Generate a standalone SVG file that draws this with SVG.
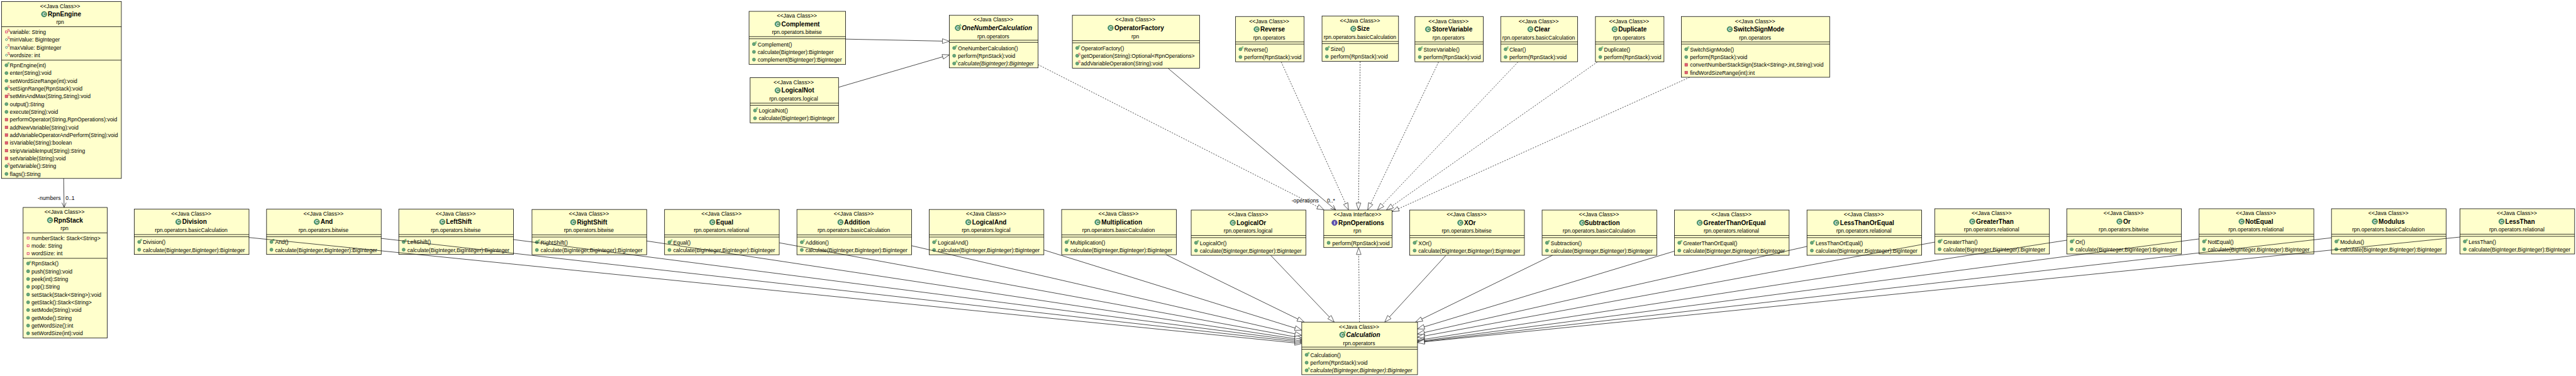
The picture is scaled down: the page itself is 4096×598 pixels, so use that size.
<svg xmlns="http://www.w3.org/2000/svg" width="4096" height="598" viewBox="0 0 4096 598">
<style>
text{font-family:"Liberation Sans",Arial,sans-serif;fill:#000}
.st{font-size:12.9px;text-anchor:middle}
.pk{font-size:12.5px;text-anchor:middle}
.ti{font-size:14.7px;font-weight:bold;text-anchor:middle}
.t{font-size:12.6px}
.i{font-style:italic}
#nodes rect{fill:#ffffcc;stroke:#000;stroke-width:1.15}
#nodes path{fill:none;stroke:#000;stroke-width:1.15}
#edges path{fill:none;stroke:#111;stroke-width:1.1}
#edges .g{marker-end:url(#tri)}
#edges .d{stroke-dasharray:3 3;marker-end:url(#tri)}
#edges .o{marker-end:url(#open)}
.sup{font-size:9px;font-weight:bold;fill:#1c8c3c}
.sr{font-size:9px;fill:#c8104a}
.ic{font-size:10px;font-weight:bold;fill:#fff;text-anchor:middle}
</style>
<defs>
<marker id="tri" markerUnits="userSpaceOnUse" viewBox="-18 -7 20 14" refX="0" refY="0" markerWidth="20" markerHeight="14" orient="auto"><path d="M0 0L-16 -5.5V5.5Z" fill="#fff" stroke="#222" stroke-width="1"/></marker>
<marker id="open" markerUnits="userSpaceOnUse" viewBox="-14 -7 16 14" refX="0" refY="0" markerWidth="16" markerHeight="14" orient="auto"><path d="M-11 -5L0 0L-11 5" fill="none" stroke="#111" stroke-width="1"/></marker>
<g id="m"><circle r="3.7" fill="#66a67c" stroke="#3f7d55" stroke-width=".8"/></g>
<g id="ct"><use href="#m"/><text class="sup" x="2.2" y="-2">c</text></g>
<g id="ms"><use href="#m"/><text class="sr" x="2.2" y="-1.6">S</text></g>
<g id="am"><use href="#m"/><text class="sup" x="2.2" y="-1.6" style="font-weight:normal">A</text></g>
<g id="p"><rect x="-3.2" y="-3.2" width="6.4" height="6.4" fill="#e2606f" stroke="#a8324a" stroke-width=".8"/></g>
<g id="ps"><use href="#p"/><text class="sr" x="2.2" y="-1.6">S</text></g>
<g id="pf"><rect x="-2.3" y="-2.3" width="4.6" height="4.6" fill="#fff" stroke="#d8405a" stroke-width="1.4"/></g>
<g id="pfs"><use href="#pf"/><text class="sr" x="2.2" y="-1.6">S</text></g>
<g id="gfs"><circle r="2.3" fill="#fff" stroke="#4f9467" stroke-width="1.4"/><text class="sr" x="2.2" y="-1.6">S</text></g>
<g id="ci"><circle r="6.3" fill="#4f9468" stroke="#3a7a55"/><text class="ic" y="3.6">C</text></g>
<g id="cia"><use href="#ci"/><text class="sup" x="2.6" y="-3" style="font-weight:normal">A</text></g>
<g id="ii"><circle r="6.3" fill="#5d50ad" stroke="#463a90"/><text class="ic" y="3.6">I</text></g>
</defs>
<g transform="scale(0.6855)">
<rect width="5976" height="873" fill="#fff"/>
<g id="nodes">
<g id="RpnEngine" transform="translate(3.5,3.5)"><rect width="278" height="410.5"/><path d="M0 58.5H278M0 136H278"/>
<text class="st" x="136" y="14.8">&lt;&lt;Java Class&gt;&gt;</text><use href="#ci" x="98.8" y="29.5"/><text class="ti" x="146" y="34.5">RpnEngine</text><text class="pk" x="136" y="52.5">rpn</text>
<use href="#pfs" x="11.5" y="70.5"/><text class="t" x="19.3" y="75.2">variable: String</text>
<use href="#gfs" x="11.5" y="88.5"/><text class="t" x="19.3" y="93.2">minValue: BigInteger</text>
<use href="#gfs" x="11.5" y="106.5"/><text class="t" x="19.3" y="111.2">maxValue: BigInteger</text>
<use href="#gfs" x="11.5" y="124.5"/><text class="t" x="19.3" y="129.2">wordsize: int</text>
<use href="#ct" x="11.5" y="148"/><text class="t" x="19.3" y="152.5">RpnEngine(int)</text>
<use href="#m" x="11.5" y="166"/><text class="t" x="19.3" y="170.5">enter(String):void</text>
<use href="#m" x="11.5" y="184"/><text class="t" x="19.3" y="188.5">setWordSizeRange(int):void</text>
<use href="#ms" x="11.5" y="202"/><text class="t" x="19.3" y="206.5">setSignRange(RpnStack):void</text>
<use href="#ps" x="11.5" y="220"/><text class="t" x="19.3" y="224.5">setMinAndMax(String,String):void</text>
<use href="#m" x="11.5" y="238"/><text class="t" x="19.3" y="242.5">output():String</text>
<use href="#m" x="11.5" y="256"/><text class="t" x="19.3" y="260.5">execute(String):void</text>
<use href="#p" x="11.5" y="274"/><text class="t" x="19.3" y="278.5">performOperator(String,RpnOperations):void</text>
<use href="#p" x="11.5" y="292"/><text class="t" x="19.3" y="296.5">addNewVariable(String):void</text>
<use href="#p" x="11.5" y="310"/><text class="t" x="19.3" y="314.5">addVariableOperatorAndPerform(String):void</text>
<use href="#p" x="11.5" y="328"/><text class="t" x="19.3" y="332.5">isVariable(String):boolean</text>
<use href="#p" x="11.5" y="346"/><text class="t" x="19.3" y="350.5">stripVariableInput(String):String</text>
<use href="#p" x="11.5" y="364"/><text class="t" x="19.3" y="368.5">setVariable(String):void</text>
<use href="#ms" x="11.5" y="382"/><text class="t" x="19.3" y="386.5">getVariable():String</text>
<use href="#m" x="11.5" y="400"/><text class="t" x="19.3" y="404.5">flags():String</text>
</g>
<g id="RpnStack" transform="translate(53.6,481.3)"><rect width="195" height="303"/><path d="M0 59H195M0 118H195"/>
<text class="st" x="96" y="15">&lt;&lt;Java Class&gt;&gt;</text><use href="#ci" x="62.4" y="29.5"/><text class="ti" x="105" y="34.5">RpnStack</text><text class="pk" x="96" y="53">rpn</text>
<use href="#pf" x="11.6" y="71"/><text class="t" x="19.2" y="75.4">numberStack: Stack&lt;String&gt;</text>
<use href="#pf" x="11.6" y="89"/><text class="t" x="19.2" y="93.4">mode: String</text>
<use href="#pf" x="11.6" y="107"/><text class="t" x="19.2" y="111.4">wordSize: int</text>
<use href="#ct" x="11.6" y="130"/><text class="t" x="19.2" y="134.7">RpnStack()</text>
<use href="#m" x="11.6" y="148"/><text class="t" x="19.2" y="152.7">push(String):void</text>
<use href="#m" x="11.6" y="166"/><text class="t" x="19.2" y="170.7">peek(int):String</text>
<use href="#m" x="11.6" y="184"/><text class="t" x="19.2" y="188.7">pop():String</text>
<use href="#m" x="11.6" y="202"/><text class="t" x="19.2" y="206.7">setStack(Stack&lt;String&gt;):void</text>
<use href="#m" x="11.6" y="220"/><text class="t" x="19.2" y="224.7">getStack():Stack&lt;String&gt;</text>
<use href="#m" x="11.6" y="238"/><text class="t" x="19.2" y="242.7">setMode(String):void</text>
<use href="#m" x="11.6" y="256"/><text class="t" x="19.2" y="260.7">getMode():String</text>
<use href="#m" x="11.6" y="274"/><text class="t" x="19.2" y="278.7">getWordSize():int</text>
<use href="#m" x="11.6" y="292"/><text class="t" x="19.2" y="296.7">setWordSize(int):void</text>
</g>
<g id="Division" transform="translate(311.6,485.3)"><rect width="266" height="105"/><path d="M0 59H266M0 64H266"/><text class="st" x="132" y="15">&lt;&lt;Java Class&gt;&gt;</text><use href="#ci" x="102.2" y="29.5"/><text class="ti" x="139.5" y="34.5">Division</text><text class="pk" x="132" y="53">rpn.operators.basicCalculation</text><use href="#ct" x="11.3" y="76"/><text class="t" x="20" y="81">Division()</text><use href="#m" x="11.3" y="94"/><text class="t" x="20" y="99">calculate(BigInteger,BigInteger):BigInteger</text></g>
<g id="And" transform="translate(618.3,485.3)"><rect width="266" height="105"/><path d="M0 59H266M0 64H266"/><text class="st" x="132" y="15">&lt;&lt;Java Class&gt;&gt;</text><use href="#ci" x="116.5" y="29.5"/><text class="ti" x="139.5" y="34.5">And</text><text class="pk" x="132" y="53">rpn.operators.bitwise</text><use href="#ct" x="11.3" y="76"/><text class="t" x="20" y="81">And()</text><use href="#m" x="11.3" y="94"/><text class="t" x="20" y="99">calculate(BigInteger,BigInteger):BigInteger</text></g>
<g id="LeftShift" transform="translate(925,485.3)"><rect width="266" height="105"/><path d="M0 59H266M0 64H266"/><text class="st" x="132" y="15">&lt;&lt;Java Class&gt;&gt;</text><use href="#ci" x="101" y="29.5"/><text class="ti" x="139.5" y="34.5">LeftShift</text><text class="pk" x="132" y="53">rpn.operators.bitwise</text><use href="#ct" x="11.3" y="76"/><text class="t" x="20" y="81">LeftShift()</text><use href="#m" x="11.3" y="94"/><text class="t" x="20" y="99">calculate(BigInteger,BigInteger):BigInteger</text></g>
<g id="RightShift" transform="translate(1234,486)"><rect width="266" height="105"/><path d="M0 59H266M0 64H266"/><text class="st" x="132" y="15">&lt;&lt;Java Class&gt;&gt;</text><use href="#ci" x="95.7" y="29.5"/><text class="ti" x="139.5" y="34.5">RightShift</text><text class="pk" x="132" y="53">rpn.operators.bitwise</text><use href="#ct" x="11.3" y="76"/><text class="t" x="20" y="81">RightShift()</text><use href="#m" x="11.3" y="94"/><text class="t" x="20" y="99">calculate(BigInteger,BigInteger):BigInteger</text></g>
<g id="Equal" transform="translate(1541.5,486)"><rect width="266" height="105"/><path d="M0 59H266M0 64H266"/><text class="st" x="132" y="15">&lt;&lt;Java Class&gt;&gt;</text><use href="#ci" x="110.8" y="29.5"/><text class="ti" x="139.5" y="34.5">Equal</text><text class="pk" x="132" y="53">rpn.operators.relational</text><use href="#ct" x="11.3" y="76"/><text class="t" x="20" y="81">Equal()</text><use href="#m" x="11.3" y="94"/><text class="t" x="20" y="99">calculate(BigInteger,BigInteger):BigInteger</text></g>
<g id="Addition" transform="translate(1848.5,486)"><rect width="266" height="105"/><path d="M0 59H266M0 64H266"/><text class="st" x="132" y="15">&lt;&lt;Java Class&gt;&gt;</text><use href="#ci" x="101" y="29.5"/><text class="ti" x="139.5" y="34.5">Addition</text><text class="pk" x="132" y="53">rpn.operators.basicCalculation</text><use href="#ct" x="11.3" y="76"/><text class="t" x="20" y="81">Addition()</text><use href="#m" x="11.3" y="94"/><text class="t" x="20" y="99">calculate(BigInteger,BigInteger):BigInteger</text></g>
<g id="LogicalAnd" transform="translate(2155.3,486)"><rect width="266" height="105"/><path d="M0 59H266M0 64H266"/><text class="st" x="132" y="15">&lt;&lt;Java Class&gt;&gt;</text><use href="#ci" x="90.8" y="29.5"/><text class="ti" x="139.5" y="34.5">LogicalAnd</text><text class="pk" x="132" y="53">rpn.operators.logical</text><use href="#ct" x="11.3" y="76"/><text class="t" x="20" y="81">LogicalAnd()</text><use href="#m" x="11.3" y="94"/><text class="t" x="20" y="99">calculate(BigInteger,BigInteger):BigInteger</text></g>
<g id="Multiplication" transform="translate(2462.5,486)"><rect width="266" height="105"/><path d="M0 59H266M0 64H266"/><text class="st" x="132" y="15">&lt;&lt;Java Class&gt;&gt;</text><use href="#ci" x="83.3" y="29.5"/><text class="ti" x="139.5" y="34.5">Multiplication</text><text class="pk" x="132" y="53">rpn.operators.basicCalculation</text><use href="#ct" x="11.3" y="76"/><text class="t" x="20" y="81">Multiplication()</text><use href="#m" x="11.3" y="94"/><text class="t" x="20" y="99">calculate(BigInteger,BigInteger):BigInteger</text></g>
<g id="LogicalOr" transform="translate(2763,487.3)"><rect width="266" height="105"/><path d="M0 59H266M0 64H266"/><text class="st" x="132" y="15">&lt;&lt;Java Class&gt;&gt;</text><use href="#ci" x="96.5" y="29.5"/><text class="ti" x="139.5" y="34.5">LogicalOr</text><text class="pk" x="132" y="53">rpn.operators.logical</text><use href="#ct" x="11.3" y="76"/><text class="t" x="20" y="81">LogicalOr()</text><use href="#m" x="11.3" y="94"/><text class="t" x="20" y="99">calculate(BigInteger,BigInteger):BigInteger</text></g>
<g id="RpnOperations" transform="translate(3070.5,487.3)"><rect width="158.5" height="87"/><path d="M0 59H158.5M0 64H158.5"/><text class="st" x="78" y="15">&lt;&lt;Java Interface&gt;&gt;</text><use href="#ii" x="25" y="29.5"/><text class="ti" x="87" y="34.5">RpnOperations</text><text class="pk" x="78" y="53">rpn</text><use href="#m" x="11.3" y="76"/><text class="t" x="20" y="81">perform(RpnStack):void</text></g>
<g id="XOr" transform="translate(3270,487.3)"><rect width="266" height="105"/><path d="M0 59H266M0 64H266"/><text class="st" x="132" y="15">&lt;&lt;Java Class&gt;&gt;</text><use href="#ci" x="117.3" y="29.5"/><text class="ti" x="139.5" y="34.5">XOr</text><text class="pk" x="132" y="53">rpn.operators.bitwise</text><use href="#ct" x="11.3" y="76"/><text class="t" x="20" y="81">XOr()</text><use href="#m" x="11.3" y="94"/><text class="t" x="20" y="99">calculate(BigInteger,BigInteger):BigInteger</text></g>
<g id="Subtraction" transform="translate(3577,487.3)"><rect width="266" height="105"/><path d="M0 59H266M0 64H266"/><text class="st" x="132" y="15">&lt;&lt;Java Class&gt;&gt;</text><use href="#ci" x="92.9" y="29.5"/><text class="ti" x="139.5" y="34.5">Subtraction</text><text class="pk" x="132" y="53">rpn.operators.basicCalculation</text><use href="#ct" x="11.3" y="76"/><text class="t" x="20" y="81">Subtraction()</text><use href="#m" x="11.3" y="94"/><text class="t" x="20" y="99">calculate(BigInteger,BigInteger):BigInteger</text></g>
<g id="GreaterThanOrEqual" transform="translate(3884,487.3)"><rect width="266" height="105"/><path d="M0 59H266M0 64H266"/><text class="st" x="132" y="15">&lt;&lt;Java Class&gt;&gt;</text><use href="#ci" x="58.5" y="29.5"/><text class="ti" x="139.5" y="34.5">GreaterThanOrEqual</text><text class="pk" x="132" y="53">rpn.operators.relational</text><use href="#ct" x="11.3" y="76"/><text class="t" x="20" y="81">GreaterThanOrEqual()</text><use href="#m" x="11.3" y="94"/><text class="t" x="20" y="99">calculate(BigInteger,BigInteger):BigInteger</text></g>
<g id="LessThanOrEqual" transform="translate(4191.4,487.3)"><rect width="266" height="105"/><path d="M0 59H266M0 64H266"/><text class="st" x="132" y="15">&lt;&lt;Java Class&gt;&gt;</text><use href="#ci" x="67.9" y="29.5"/><text class="ti" x="139.5" y="34.5">LessThanOrEqual</text><text class="pk" x="132" y="53">rpn.operators.relational</text><use href="#ct" x="11.3" y="76"/><text class="t" x="20" y="81">LessThanOrEqual()</text><use href="#m" x="11.3" y="94"/><text class="t" x="20" y="99">calculate(BigInteger,BigInteger):BigInteger</text></g>
<g id="GreaterThan" transform="translate(4487.7,484.3)"><rect width="266" height="105"/><path d="M0 59H266M0 64H266"/><text class="st" x="132" y="15">&lt;&lt;Java Class&gt;&gt;</text><use href="#ci" x="87.1" y="29.5"/><text class="ti" x="139.5" y="34.5">GreaterThan</text><text class="pk" x="132" y="53">rpn.operators.relational</text><use href="#ct" x="11.3" y="76"/><text class="t" x="20" y="81">GreaterThan()</text><use href="#m" x="11.3" y="94"/><text class="t" x="20" y="99">calculate(BigInteger,BigInteger):BigInteger</text></g>
<g id="Or" transform="translate(4794,484.3)"><rect width="266" height="105"/><path d="M0 59H266M0 64H266"/><text class="st" x="132" y="15">&lt;&lt;Java Class&gt;&gt;</text><use href="#ci" x="122.2" y="29.5"/><text class="ti" x="139.5" y="34.5">Or</text><text class="pk" x="132" y="53">rpn.operators.bitwise</text><use href="#ct" x="11.3" y="76"/><text class="t" x="20" y="81">Or()</text><use href="#m" x="11.3" y="94"/><text class="t" x="20" y="99">calculate(BigInteger,BigInteger):BigInteger</text></g>
<g id="NotEqual" transform="translate(5101,484.3)"><rect width="266" height="105"/><path d="M0 59H266M0 64H266"/><text class="st" x="132" y="15">&lt;&lt;Java Class&gt;&gt;</text><use href="#ci" x="98.5" y="29.5"/><text class="ti" x="139.5" y="34.5">NotEqual</text><text class="pk" x="132" y="53">rpn.operators.relational</text><use href="#ct" x="11.3" y="76"/><text class="t" x="20" y="81">NotEqual()</text><use href="#m" x="11.3" y="94"/><text class="t" x="20" y="99">calculate(BigInteger,BigInteger):BigInteger</text></g>
<g id="Modulus" transform="translate(5408,484.3)"><rect width="266" height="105"/><path d="M0 59H266M0 64H266"/><text class="st" x="132" y="15">&lt;&lt;Java Class&gt;&gt;</text><use href="#ci" x="100.6" y="29.5"/><text class="ti" x="139.5" y="34.5">Modulus</text><text class="pk" x="132" y="53">rpn.operators.basicCalculation</text><use href="#ct" x="11.3" y="76"/><text class="t" x="20" y="81">Modulus()</text><use href="#m" x="11.3" y="94"/><text class="t" x="20" y="99">calculate(BigInteger,BigInteger):BigInteger</text></g>
<g id="LessThan" transform="translate(5706,484.3)"><rect width="266" height="105"/><path d="M0 59H266M0 64H266"/><text class="st" x="132" y="15">&lt;&lt;Java Class&gt;&gt;</text><use href="#ci" x="96.5" y="29.5"/><text class="ti" x="139.5" y="34.5">LessThan</text><text class="pk" x="132" y="53">rpn.operators.relational</text><use href="#ct" x="11.3" y="76"/><text class="t" x="20" y="81">LessThan()</text><use href="#m" x="11.3" y="94"/><text class="t" x="20" y="99">calculate(BigInteger,BigInteger):BigInteger</text></g>
<g id="Calculation" transform="translate(3019.5,747.3)"><rect width="268.5" height="122"/><path d="M0 58H268.5M0 63H268.5"/><text class="st" x="133" y="15">&lt;&lt;Java Class&gt;&gt;</text><use href="#cia" x="94" y="29.5"/><text class="ti i" x="142.5" y="34.5">Calculation</text><text class="pk" x="133" y="53">rpn.operators</text><use href="#ct" x="11.3" y="76"/><text class="t" x="20" y="81">Calculation()</text><use href="#m" x="11.3" y="94"/><text class="t" x="20" y="99">perform(RpnStack):void</text><use href="#am" x="11.3" y="112"/><text class="t i" x="20" y="117">calculate(BigInteger,BigInteger):BigInteger</text></g>
<g id="Complement" transform="translate(1737.5,26.3)"><rect width="224" height="123"/><path d="M0 58.7H224M0 63.7H224"/><text class="st" x="111" y="15">&lt;&lt;Java Class&gt;&gt;</text><use href="#ci" x="66.3" y="29.5"/><text class="ti" x="119.5" y="34.5">Complement</text><text class="pk" x="111" y="53">rpn.operators.bitwise</text><use href="#ct" x="11.3" y="76"/><text class="t" x="20" y="81">Complement()</text><use href="#m" x="11.3" y="94"/><text class="t" x="20" y="99">calculate(BigInteger):BigInteger</text><use href="#m" x="11.3" y="112"/><text class="t" x="20" y="117">complement(BigInteger):BigInteger</text></g>
<g id="LogicalNot" transform="translate(1740,180.3)"><rect width="205" height="105"/><path d="M0 59H205M0 64H205"/><text class="st" x="101" y="15">&lt;&lt;Java Class&gt;&gt;</text><use href="#ci" x="63.8" y="29.5"/><text class="ti" x="110.5" y="34.5">LogicalNot</text><text class="pk" x="101" y="53">rpn.operators.logical</text><use href="#ct" x="11.3" y="76"/><text class="t" x="20" y="81">LogicalNot()</text><use href="#m" x="11.3" y="94"/><text class="t" x="20" y="99">calculate(BigInteger):BigInteger</text></g>
<g id="OneNumberCalculation" transform="translate(2202,35.3)"><rect width="206" height="122"/><path d="M0 58H206M0 63H206"/><text class="st" x="102" y="15">&lt;&lt;Java Class&gt;&gt;</text><use href="#cia" x="19.7" y="29.5"/><text class="ti i" x="110.4" y="34.5">OneNumberCalculation</text><text class="pk" x="102" y="53">rpn.operators</text><use href="#ct" x="11.3" y="76"/><text class="t" x="20" y="81">OneNumberCalculation()</text><use href="#m" x="11.3" y="94"/><text class="t" x="20" y="99">perform(RpnStack):void</text><use href="#am" x="11.3" y="112"/><text class="t i" x="20" y="117">calculate(BigInteger):BigInteger</text></g>
<g id="OperatorFactory" transform="translate(2487.4,35.3)"><rect width="295" height="123"/><path d="M0 59H295M0 64H295"/><text class="st" x="146" y="15">&lt;&lt;Java Class&gt;&gt;</text><use href="#ci" x="88.7" y="29.5"/><text class="ti" x="155" y="34.5">OperatorFactory</text><text class="pk" x="146" y="53">rpn</text><use href="#ct" x="11.3" y="76"/><text class="t" x="20" y="81">OperatorFactory()</text><use href="#ms" x="11.3" y="94"/><text class="t" x="20" y="99">getOperation(String):Optional&lt;RpnOperations&gt;</text><use href="#ms" x="11.3" y="112"/><text class="t" x="20" y="117">addVariableOperation(String):void</text></g>
<g id="Reverse" transform="translate(2866,38.3)"><rect width="159" height="105"/><path d="M0 59H159M0 64H159"/><text class="st" x="78" y="15">&lt;&lt;Java Class&gt;&gt;</text><use href="#ci" x="48.8" y="29.5"/><text class="ti" x="86" y="34.5">Reverse</text><text class="pk" x="78" y="53">rpn.operators</text><use href="#ct" x="11.3" y="76"/><text class="t" x="20" y="81">Reverse()</text><use href="#m" x="11.3" y="94"/><text class="t" x="20" y="99">perform(RpnStack):void</text></g>
<g id="Size" transform="translate(3066.5,37.3)"><rect width="177.5" height="105"/><path d="M0 59H177.5M0 64H177.5"/><text class="st" x="88" y="15">&lt;&lt;Java Class&gt;&gt;</text><use href="#ci" x="72.6" y="29.5"/><text class="ti" x="96" y="34.5">Size</text><text class="pk" x="88" y="53">rpn.operators.basicCalculation</text><use href="#ct" x="11.3" y="76"/><text class="t" x="20" y="81">Size()</text><use href="#m" x="11.3" y="94"/><text class="t" x="20" y="99">perform(RpnStack):void</text></g>
<g id="StoreVariable" transform="translate(3282,38.3)"><rect width="158.5" height="105"/><path d="M0 59H158.5M0 64H158.5"/><text class="st" x="78" y="15">&lt;&lt;Java Class&gt;&gt;</text><use href="#ci" x="30.4" y="29.5"/><text class="ti" x="86.5" y="34.5">StoreVariable</text><text class="pk" x="78" y="53">rpn.operators</text><use href="#ct" x="11.3" y="76"/><text class="t" x="20" y="81">StoreVariable()</text><use href="#m" x="11.3" y="94"/><text class="t" x="20" y="99">perform(RpnStack):void</text></g>
<g id="Clear" transform="translate(3481,38.3)"><rect width="178.4" height="105"/><path d="M0 59H178.4M0 64H178.4"/><text class="st" x="88" y="15">&lt;&lt;Java Class&gt;&gt;</text><use href="#ci" x="68.8" y="29.5"/><text class="ti" x="96" y="34.5">Clear</text><text class="pk" x="88" y="53">rpn.operators.basicCalculation</text><use href="#ct" x="11.3" y="76"/><text class="t" x="20" y="81">Clear()</text><use href="#m" x="11.3" y="94"/><text class="t" x="20" y="99">perform(RpnStack):void</text></g>
<g id="Duplicate" transform="translate(3700.7,38.3)"><rect width="159" height="105"/><path d="M0 59H159M0 64H159"/><text class="st" x="78" y="15">&lt;&lt;Java Class&gt;&gt;</text><use href="#ci" x="44.6" y="29.5"/><text class="ti" x="86" y="34.5">Duplicate</text><text class="pk" x="78" y="53">rpn.operators</text><use href="#ct" x="11.3" y="76"/><text class="t" x="20" y="81">Duplicate()</text><use href="#m" x="11.3" y="94"/><text class="t" x="20" y="99">perform(RpnStack):void</text></g>
<g id="SwitchSignMode" transform="translate(3900,38.3)"><rect width="344" height="141"/><path d="M0 59H344M0 64H344"/><text class="st" x="171" y="15">&lt;&lt;Java Class&gt;&gt;</text><use href="#ci" x="112.3" y="29.5"/><text class="ti" x="180" y="34.5">SwitchSignMode</text><text class="pk" x="171" y="53">rpn.operators</text><use href="#ct" x="11.3" y="76"/><text class="t" x="20" y="81">SwitchSignMode()</text><use href="#m" x="11.3" y="94"/><text class="t" x="20" y="99">perform(RpnStack):void</text><use href="#p" x="11.3" y="112"/><text class="t" x="20" y="117">convertNumberStackSign(Stack&lt;String&gt;,int,String):void</text><use href="#p" x="11.3" y="130"/><text class="t" x="20" y="135">findWordSizeRange(int):int</text></g>
</g>
<g id="edges">
<path class="o" d="M147.7 414L148.7 481.3"/>
<path class="g" d="M1961 90.7L2202 95.7"/>
<path class="g" d="M1945.8 202.3L2202 127.3"/>
<path class="d" d="M2408 150L3071 487"/>
<path class="o" d="M2710 159L3098 487"/>
<path class="d" d="M2972 144L3128 487"/>
<path class="d" d="M3155 143L3151 487"/>
<path class="d" d="M3336.8 144L3172.5 487"/>
<path class="d" d="M3520.9 144L3195 487"/>
<path class="d" d="M3705 144L3216 487"/>
<path class="d" d="M3919 179.5L3229 491"/>
<path class="d" d="M3153.4 747.3L3151.5 574.5"/>
<path class="g" d="M577.2 551L3019.5 797.2"/>
<path class="g" d="M883.5 553L3019.5 794.1"/>
<path class="g" d="M1190 555.7L3019.5 791.1"/>
<path class="g" d="M1499.5 559L3019.5 788.2"/>
<path class="g" d="M1807.5 563.3L3019.5 784.3"/>
<path class="g" d="M2114.2 570L3019.5 778.2"/>
<path class="g" d="M2421.3 580L3019.5 766"/>
<path class="g" d="M2705 591L3025 747.3"/>
<path class="g" d="M2947.4 592.3L3094.8 747.3"/>
<path class="g" d="M3354 592.3L3212 747.3"/>
<path class="g" d="M3601 592.3L3283.5 747.3"/>
<path class="g" d="M3884 582.7L3288 763"/>
<path class="g" d="M4191.4 571.7L3288 775"/>
<path class="g" d="M4488 561.7L3288 782.5"/>
<path class="g" d="M4794 557.3L3288 789.6"/>
<path class="g" d="M5101 554.3L3288 792.4"/>
<path class="g" d="M5408 551.7L3288 793.8"/>
<path class="g" d="M5706 550L3288 794.7"/>
<text class="t" x="87.7" y="464">-numbers</text>
<text class="t" x="152" y="464">0..1</text>
<text class="t" x="2996" y="470">-operations</text>
<text class="t" x="3078" y="470">0..*</text>
</g>
</g>
</svg>
